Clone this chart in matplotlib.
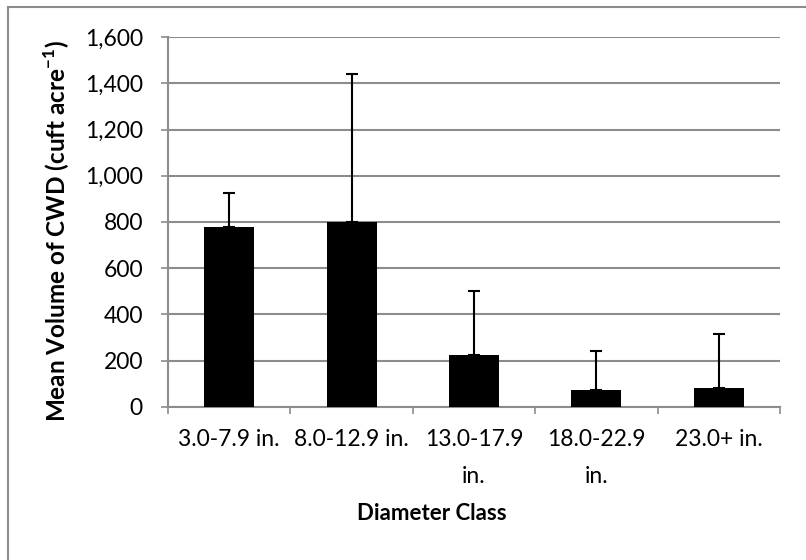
import numpy as np
import matplotlib
matplotlib.use("Agg")
import matplotlib.pyplot as plt
from matplotlib.patches import Rectangle
from matplotlib.ticker import FuncFormatter

plt.rcParams["font.family"] = ["Lato", "DejaVu Sans"]
plt.rcParams["mathtext.fontset"] = "custom"
plt.rcParams["mathtext.rm"] = "Lato"
plt.rcParams["mathtext.bf"] = "Lato:bold"

classes = ["3.0-7.9 in.", "8.0-12.9 in.", "13.0-17.9\nin.", "18.0-22.9\nin.", "23.0+ in."]
mean_volume = [777, 799, 223, 72, 81]
upper_error = [147, 641, 278, 168, 235]

fig = plt.figure(figsize=(8.06, 5.6), dpi=100)
ax = fig.add_axes([168 / 806, 1 - 406.7 / 560, (780 - 168) / 806, (406.7 - 37.3) / 560])

# outer chart border (cut off on right / bottom like the original)
fig.patches.append(Rectangle((8 / 806, -0.1), 1.2, 1 - 7 / 560 + 0.1,
                             transform=fig.transFigure, fill=False,
                             edgecolor="#8c8c8c", linewidth=1.5))

x = np.arange(len(classes))
ax.bar(x, mean_volume, width=0.41, color="black", zorder=3)
ax.errorbar(x, mean_volume, yerr=[np.zeros(len(x)), upper_error], fmt="none",
            ecolor="black", elinewidth=1.5, capsize=4.5, capthick=1.5, zorder=4)

ax.set_xlim(-0.5, len(classes) - 0.5)
ax.set_ylim(0, 1600)
ax.set_yticks(np.arange(0, 1601, 200))
ax.yaxis.set_major_formatter(FuncFormatter(lambda v, p: f"{int(v):,}"))
ax.yaxis.grid(True, color="#8c8c8c", linewidth=1.5, zorder=0)
ax.set_axisbelow(True)

ax.set_xticks(x)
ax.set_xticklabels(classes, linespacing=1.95, va="top")
ax.set_xticks(np.arange(-0.5, len(classes), 1), minor=True)
ax.tick_params(axis="x", which="major", length=0, pad=16, labelsize=16.5)
ax.tick_params(axis="x", which="minor", length=5, width=1.2, color="#8c8c8c", direction="out")
ax.tick_params(axis="y", length=5, width=1.2, color="#8c8c8c", pad=13, labelsize=16.5)

for s in ["top", "right"]:
    ax.spines[s].set_visible(False)
for s in ["left", "bottom"]:
    ax.spines[s].set_color("#8c8c8c")
    ax.spines[s].set_linewidth(1.5)

fig.text(57 / 806, 1 - 231 / 560, r"Mean Volume of CWD (cuft acre$^{\mathbf{-1}}$)",
         rotation=90, ha="center", va="center", fontsize=17.5, fontweight="bold")
fig.text(432 / 806, 1 - 513 / 560, "Diameter Class", ha="center", va="center",
         fontsize=16, fontweight="bold")

fig.savefig("out.png", dpi=100)
